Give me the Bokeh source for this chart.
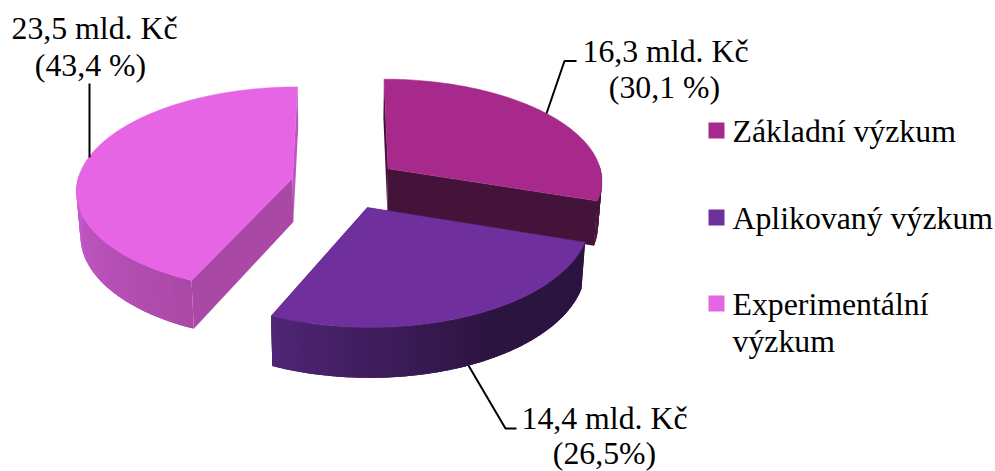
from math import sin, cos, radians
from bokeh.plotting import figure
from bokeh.embed import file_html
from bokeh.resources import INLINE
from bokeh.core.properties import value
from bokeh.models import Range1d

categories = ["Základní výzkum", "Aplikovaný výzkum", "Experimentální\nvýzkum"]
billions_label = ["16,3 mld. Kč", "14,4 mld. Kč", "23,5 mld. Kč"]
percent_label = ["(30,1 %)", "(26,5%)", "(43,4 %)"]
percents = [30.1, 26.5, 43.4]

top_colors = ["#A7298B", "#6F2F9D", "#E565E5"]
cut_colors = ["#441339", "#2B1340", "#AA48A6"]

# Pseudo-3D pie projection: ground plane (X, Y) with unit radius, seen in perspective
CX, CY = 344.5, 183.0
AX, BY = 215.5, 102.0
PERSP = 0.105
EXPLODE = 0.25
DEPTH = 44.0
BOTTOM_SHRINK = 0.985


def project(gx, gy, bottom=False):
    s = 1.0 / (1.0 + PERSP * gy)
    k = BOTTOM_SHRINK if bottom else 1.0
    x = CX + AX * gx * s * k
    y = CY - BY * gy * s
    if bottom:
        y += DEPTH * s
    return x, y


def hexmix(c1, c2, t):
    t = max(0.0, min(1.0, t))
    a = [int(c1[i:i + 2], 16) for i in (1, 3, 5)]
    b = [int(c2[i:i + 2], 16) for i in (1, 3, 5)]
    return "#%02x%02x%02x" % tuple(round(p + (q - p) * t) for p, q in zip(a, b))


def wall_color(idx, deg):
    if idx == 0:
        return "#441339"
    if idx == 1:
        return hexmix("#2C1440", "#4F2575", (deg - 150) / (203.8 - 150))
    return hexmix("#AA48A6", "#C75BCB", (deg - 203.8) / (270 - 203.8))


p = figure(width=995, height=471, output_backend="svg", toolbar_location=None,
           x_range=Range1d(0, 995), y_range=Range1d(471, 0), min_border=0)
p.axis.visible = False
p.grid.visible = False
p.outline_line_color = None

start = 0.0
slices = []
for i, pct in enumerate(percents):
    sweep = pct * 3.6
    slices.append((i, start, start + sweep))
    start += sweep

# Back-to-front drawing order
for i, a0, a1 in [slices[2], slices[0], slices[1]]:
    mid = radians((a0 + a1) / 2)
    ox, oy = EXPLODE * sin(mid), EXPLODE * cos(mid)

    def rim(deg):
        t = radians(deg)
        return ox + sin(t), oy + cos(t)

    # radial cut faces
    for deg in (a0, a1):
        rx, ry = rim(deg)
        c = [project(ox, oy), project(rx, ry), project(rx, ry, True), project(ox, oy, True)]
        shade = "#C055BF" if (i == 2 and deg == a1) else cut_colors[i]
        p.patch([q[0] for q in c], [q[1] for q in c], fill_color=shade, line_color=None)

    # outer wall: overlapping strips so the shade varies along the arc without seams
    n = int(a1 - a0)
    step = (a1 - a0) / n
    wall_start = max(a0, 88.0)
    wall_end = min(a1, 272.0)
    d = wall_start
    while d < wall_end - 1e-6:
        d1 = min(d + 2.2 * step, wall_end)
        c = [project(*rim(d)), project(*rim(d1)), project(*rim(d1), True), project(*rim(d), True)]
        col = wall_color(i, d + step / 2)
        p.patch([q[0] for q in c], [q[1] for q in c], fill_color=col, line_color=None)
        d += step

    # top face
    pts = [project(ox, oy)]
    for k in range(n + 1):
        pts.append(project(*rim(a0 + (a1 - a0) * k / n)))
    p.patch([q[0] for q in pts], [q[1] for q in pts], fill_color=top_colors[i],
            line_color=top_colors[i], line_width=0.5)

# Leader lines
p.line([546, 564, 576], [113, 60.5, 60.5], line_color="#000000", line_width=2)
p.line([468, 505, 516], [365, 428, 428], line_color="#000000", line_width=2)
p.line([89, 89], [157, 83], line_color="#000000", line_width=2)

FONT = value("Liberation Serif")
SIZE = "31.8px"


def put(x, y, txt, align="left"):
    p.text([x], [y], text=[txt], text_font=FONT, text_font_size=SIZE,
           text_color="#000000", text_align=align, text_baseline="middle")


put(665, 51, billions_label[0], "center")
put(664, 87, percent_label[0], "center")
put(604, 418, billions_label[1], "center")
put(604, 453, percent_label[1], "center")
put(94, 28, billions_label[2], "center")
put(90, 65, percent_label[2], "center")

# Legend
swatch_y = [130, 217, 303]
line_y = [[131], [218], [304, 341]]
for i, cat in enumerate(categories):
    p.rect([716], [swatch_y[i]], width=16, height=16, fill_color=top_colors[i], line_color=None)
    for yy, part in zip(line_y[i], cat.split("\n")):
        put(732, yy, part)

open("out.html", "w").write(file_html(p, INLINE))
